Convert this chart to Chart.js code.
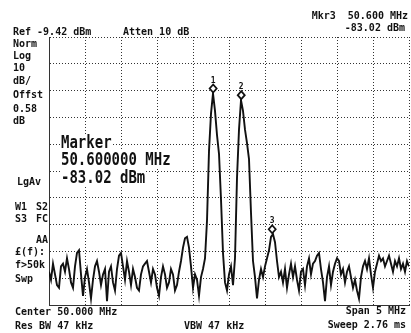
<!DOCTYPE html>
<html>
<head>
<meta charset="utf-8">
<script src="https://cdn.jsdelivr.net/npm/chart.js@4"></script>
<style>
  body { margin: 0; background: #fff; }
  #wrap { position: relative; width: 411px; height: 333px; overflow: hidden; }
  .t { position: absolute; font-family: "DejaVu Sans Mono", monospace; font-weight: bold; font-size: 10px; line-height: 10px; color: #111; white-space: pre; }
  .big { position: absolute; font-family: "DejaVu Sans Mono", monospace; font-weight: bold; font-size: 14px; line-height: 14px; color: #111; white-space: pre; background: #fff; transform: scaleY(1.2); transform-origin: left top; }
  .r { text-align: right; }
</style>
</head>
<body>
<div id="wrap">
  <canvas id="spec"></canvas>

  <div class="t" style="left:13px;top:27px">Ref -9.42 dBm</div>
  <div class="t" style="left:123px;top:27px">Atten 10 dB</div>
  <div class="t r" style="right:3px;top:11px">Mkr3  50.600 MHz</div>
  <div class="t r" style="right:6px;top:23px">-83.02 dBm</div>

  <div class="t" style="left:13px;top:39px">Norm</div>
  <div class="t" style="left:13px;top:51px">Log</div>
  <div class="t" style="left:13px;top:63px">10</div>
  <div class="t" style="left:13px;top:76px">dB/</div>
  <div class="t" style="left:13px;top:90px">Offst</div>
  <div class="t" style="left:13px;top:104px">0.58</div>
  <div class="t" style="left:13px;top:116px">dB</div>
  <div class="t" style="left:17px;top:177px">LgAv</div>
  <div class="t" style="left:15px;top:202px">W1</div>
  <div class="t" style="left:36px;top:202px">S2</div>
  <div class="t" style="left:15px;top:214px">S3</div>
  <div class="t" style="left:36px;top:214px">FC</div>
  <div class="t" style="left:36px;top:235px">AA</div>
  <div class="t" style="left:15px;top:247px">£(f):</div>
  <div class="t" style="left:15px;top:260px">f&gt;50k</div>
  <div class="t" style="left:15px;top:274px">Swp</div>

  <div class="t" style="left:15px;top:307px">Center 50.000 MHz</div>
  <div class="t" style="left:15px;top:321px">Res BW 47 kHz</div>
  <div class="t" style="left:184px;top:321px">VBW 47 kHz</div>
  <div class="t r" style="right:5px;top:306px">Span 5 MHz</div>
  <div class="t r" style="right:5px;top:320px">Sweep 2.76 ms</div>

  <div class="big" style="left:61px;top:134px">Marker</div>
  <div class="big" style="left:61px;top:151px">50.600000 MHz</div>
  <div class="big" style="left:61px;top:169px">-83.02 dBm</div>
</div>

<script>
// analyzer settings
const refLevel = -9.42;     // dBm, top of screen
const dbPerDiv = 10;
const startFreq = 47.5;     // MHz
const stopFreq = 52.5;      // MHz

// trace (dBm), evenly spaced across the span
const traceLevels = [
  -97, -100, -94, -98, -102, -103, -95, -94, -97, -92,
  -96, -101, -103, -95, -90, -89, -98, -106, -99, -96,
  -101, -107, -100, -95, -93, -97, -102, -98, -96, -108,
  -97, -95, -101, -104, -96, -91, -90, -95, -100, -93,
  -97, -102, -96, -99, -103, -104, -98, -95, -94, -93,
  -97, -101, -96, -98, -103, -106, -99, -95, -98, -103,
  -101, -96, -98, -104, -102, -97, -93, -88, -84.5, -84,
  -88, -95, -103, -98, -100, -106, -99, -96, -92, -78,
  -52, -38, -30.5, -37, -46, -53, -70, -90, -101, -104,
  -98, -95, -102, -92, -62, -44, -33, -37, -44, -49,
  -55, -75, -93, -99, -107, -100, -96, -99, -95, -92,
  -89, -84, -83, -86, -93, -99, -97, -101, -96, -103,
  -98, -94, -99, -95, -100, -104, -97, -96, -102, -95,
  -92, -98, -94, -93, -91, -90, -96, -101, -108, -99,
  -95, -102, -97, -94, -92, -93, -98, -96, -101, -97,
  -95, -99, -103, -100, -104, -107, -99, -95, -93, -96,
  -92, -98, -103, -97, -94, -91, -93, -92, -95, -93,
  -91, -94, -97, -93, -95, -92, -96, -94, -97, -93,
  -95
];

// markers
const markerNames = ['1', '2', '3'];
const markerFreqs = [49.78, 50.17, 50.6];
const markerLevels = [-30.5, -33.0, -83.02];

const step = (stopFreq - startFreq) / (traceLevels.length - 1);
const tracePoints = traceLevels.map((v, i) => ({ x: startFreq + i * step, y: v }));

const gridColor = '#333';

const markerPlugin = {
    id: 'markers',
    afterDatasetsDraw(chart) {
        const ctx = chart.ctx;
        const xs = chart.scales.x;
        const ys = chart.scales.y;
        ctx.save();
        markerFreqs.forEach((f, k) => {
            const px = xs.getPixelForValue(f);
            const py = ys.getPixelForValue(markerLevels[k]) - 5;
            ctx.beginPath();
            ctx.moveTo(px, py - 4);
            ctx.lineTo(px + 3.5, py);
            ctx.lineTo(px, py + 4);
            ctx.lineTo(px - 3.5, py);
            ctx.closePath();
            ctx.fillStyle = '#fff';
            ctx.fill();
            ctx.lineWidth = 1.8;
            ctx.strokeStyle = '#111';
            ctx.stroke();
            ctx.fillStyle = '#111';
            ctx.font = 'bold 8px "DejaVu Sans Mono"';
            ctx.textAlign = 'center';
            ctx.textBaseline = 'bottom';
            ctx.fillText(markerNames[k], px, py - 4);
        });
        ctx.restore();
    }
};

new Chart(document.getElementById('spec').getContext('2d'), {
    type: 'line',
    data: {
        datasets: [{
            label: 'Trace',
            data: tracePoints,
            borderColor: '#111',
            borderWidth: 1.9,
            pointRadius: 0,
            tension: 0,
            fill: false
        }]
    },
    options: {
        responsive: true,
        maintainAspectRatio: false,
        animation: false,
        layout: { padding: { left: 49, top: 37, right: 2, bottom: 28 } },
        plugins: { legend: { display: false }, tooltip: { enabled: false } },
        scales: {
            x: {
                type: 'linear',
                min: startFreq,
                max: stopFreq,
                afterBuildTicks: scale => {
                    scale.ticks = [];
                    for (let k = 0; k <= 10; k++) scale.ticks.push({ value: startFreq + k * (stopFreq - startFreq) / 10 });
                },
                ticks: { display: false },
                grid: { color: gridColor, lineWidth: 1, drawTicks: false },
                border: { display: true, color: gridColor, dash: [1, 2] }
            },
            y: {
                type: 'linear',
                min: refLevel - 10 * dbPerDiv,
                max: refLevel,
                afterBuildTicks: scale => {
                    scale.ticks = [];
                    for (let k = 0; k <= 10; k++) scale.ticks.push({ value: refLevel - k * dbPerDiv });
                },
                ticks: { display: false },
                grid: { color: gridColor, lineWidth: 1, drawTicks: false },
                border: { display: true, color: gridColor, dash: [1, 2] }
            }
        }
    },
    plugins: [markerPlugin]
});
</script>
</body>
</html>
